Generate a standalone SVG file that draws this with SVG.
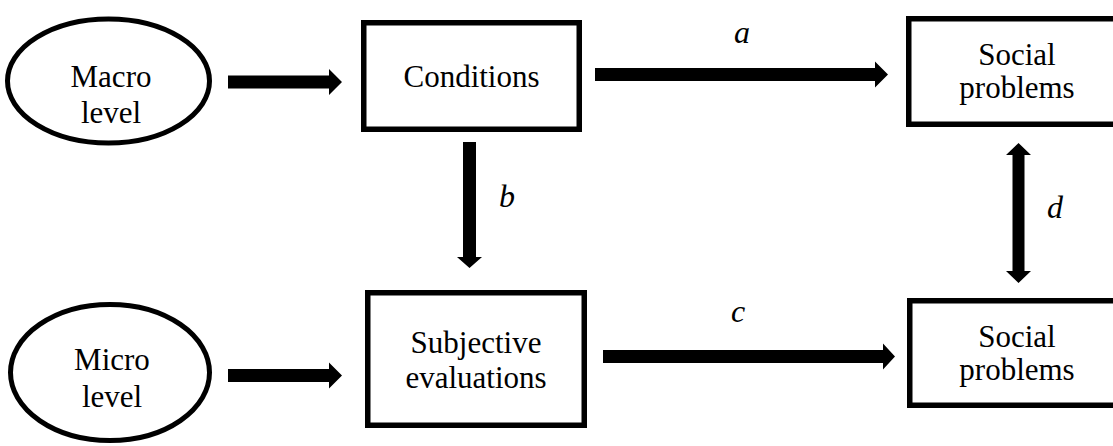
<svg xmlns="http://www.w3.org/2000/svg" width="1113" height="446" viewBox="0 0 1113 446">
<style>
.box{fill:#fff;stroke:#000;stroke-width:5.5}
.ell{fill:#fff;stroke:#000;stroke-width:5}
.t{font-family:'Liberation Serif',Tinos,'Times New Roman','DejaVu Serif',serif;font-size:31px;fill:#000;text-anchor:middle}
.lab{font-family:'Liberation Serif',Tinos,'Times New Roman','DejaVu Serif',serif;font-size:32px;font-style:italic;fill:#000;text-anchor:middle}
.arr{fill:#000;stroke:none}
</style>
<rect width="1113" height="446" fill="#fff"/>
<g id="macro">
<ellipse class="ell" cx="108.5" cy="81" rx="101" ry="62"/>
<text class="t" x="111" y="87">Macro</text>
<text class="t" x="111" y="123">level</text>
</g>
<g id="micro">
<ellipse class="ell" cx="110" cy="372.5" rx="99.5" ry="68"/>
<text class="t" x="112" y="370">Micro</text>
<text class="t" x="112" y="407">level</text>
</g>
<g id="conditions">
<rect class="box" x="363.75" y="22.75" width="215.5" height="106.5"/>
<text class="t" x="471.5" y="87">Conditions</text>
</g>
<g id="subjective">
<rect class="box" x="367.75" y="292.75" width="216.5" height="132.5"/>
<text class="t" x="476" y="353">Subjective</text>
<text class="t" x="476" y="388">evaluations</text>
</g>
<g id="social-top">
<rect class="box" x="908.75" y="18.75" width="230" height="105.5"/>
<text class="t" x="1017" y="65">Social</text>
<text class="t" x="1017" y="98">problems</text>
</g>
<g id="social-bottom">
<rect class="box" x="909.75" y="300.75" width="230" height="104.5"/>
<text class="t" x="1017" y="347">Social</text>
<text class="t" x="1017" y="380">problems</text>
</g>
<g id="connectors">
<polygon class="arr" points="228,75.5 329,75.5 329,69 342,82 329,95 329,88.5 228,88.5"/>
<polygon class="arr" points="228,369 329,369 329,362.5 342,375.5 329,388.5 329,382 228,382"/>
<polygon class="arr" points="595,68 875,68 875,61.5 888,74.5 875,87.5 875,81 595,81"/>
<polygon class="arr" points="603,350 883,350 883,343.5 895,356.5 883,369.5 883,363 603,363"/>
<polygon class="arr" points="463,142 476,142 476,257 482,257 469.5,268 457,257 463,257"/>
<polygon class="arr" points="1018.5,143 1031,155 1024.5,155 1024.5,271 1031,271 1018.5,283 1006,271 1012.5,271 1012.5,155 1006,155"/>
<text class="lab" x="742" y="43">a</text>
<text class="lab" x="507" y="207">b</text>
<text class="lab" x="738" y="322">c</text>
<text class="lab" x="1055" y="218">d</text>
</g>
</svg>
